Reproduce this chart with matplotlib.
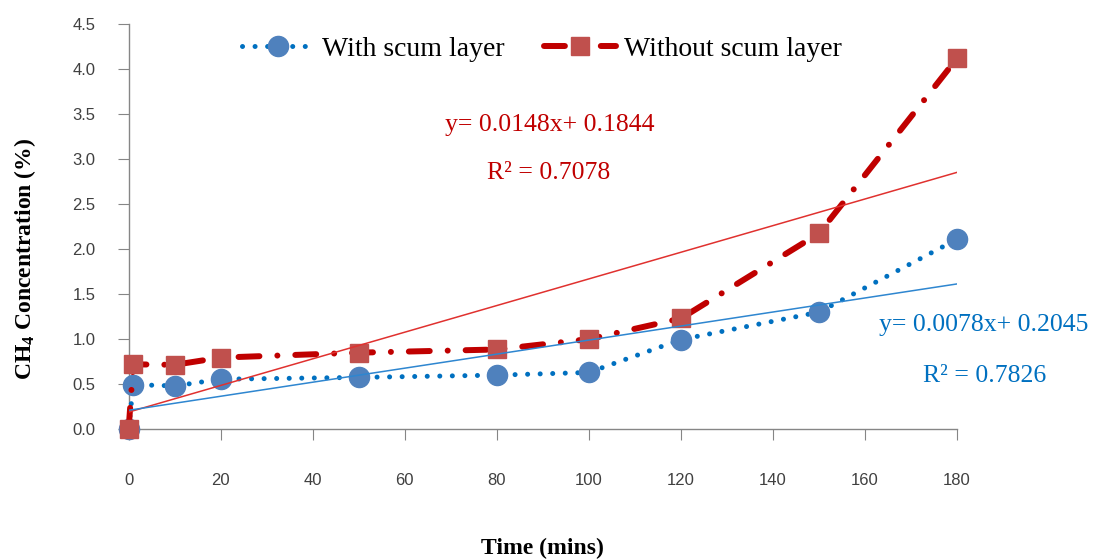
import matplotlib
matplotlib.use("Agg")
import matplotlib.pyplot as plt
import numpy as np

plt.rcParams['mathtext.fontset'] = 'custom'
plt.rcParams['mathtext.rm'] = 'Liberation Serif'
plt.rcParams['mathtext.bf'] = 'Liberation Serif:bold'
plt.rcParams['mathtext.default'] = 'bf'

time = [0, 1, 10, 20, 50, 80, 100, 120, 150, 180]
with_scum = [0.0, 0.49, 0.475, 0.55, 0.57, 0.595, 0.625, 0.99, 1.295, 2.105]
without_scum = [0.0, 0.715, 0.71, 0.79, 0.845, 0.88, 0.995, 1.225, 2.17, 4.115]
blue_fit = (0.0078, 0.2045)
red_fit = (0.0148, 0.1844)
xticks = [0, 20, 40, 60, 80, 100, 120, 140, 160, 180]
yticks = [0.0, 0.5, 1.0, 1.5, 2.0, 2.5, 3.0, 3.5, 4.0, 4.5]

fig = plt.figure(figsize=(10.93, 5.59), dpi=100)
ax = fig.add_axes([0.1177, 0.2331, 0.7579, 0.7245])

serif = 'Liberation Serif'

ax.plot(time, with_scum, color='#0070C0', lw=3.6, linestyle=(0, (0.01, 2.5)),
        dash_capstyle='round', marker='o', markersize=14.5,
        markerfacecolor='#4F81BD', markeredgecolor='#4F81BD', zorder=3,
        label='With scum layer', clip_on=False)
ax.plot(time, without_scum, color='#C00000', lw=4.3, linestyle=(0, (3.5, 3.0, 0.01, 3.0)),
        dash_capstyle='round', marker='s', markersize=13.5,
        markerfacecolor='#C0504D', markeredgecolor='#C0504D', zorder=4,
        label='Without scum layer', clip_on=False)

xf = np.array([0, 180])
ax.plot(xf, red_fit[0] * xf + red_fit[1], color='#E0312F', lw=1.1, zorder=5)
ax.plot(xf, blue_fit[0] * xf + blue_fit[1], color='#2E86D0', lw=1.1, zorder=5)

ax.set_xlim(0, 180)
ax.set_ylim(0, 4.5)
ax.set_xticks(xticks)
ax.set_yticks(yticks)
ax.set_xticklabels([str(v) for v in xticks])
ax.set_yticklabels([f"{v:.1f}" for v in yticks])
for s in ['top', 'right']:
    ax.spines[s].set_visible(False)
for s in ['left', 'bottom']:
    ax.spines[s].set_color('#868686')
    ax.spines[s].set_linewidth(1.0)
ax.tick_params(axis='x', direction='out', length=8, color='#868686', pad=24,
               labelsize=12, labelcolor='#404040')
ax.tick_params(axis='y', direction='out', length=8, color='#868686', pad=16,
               labelsize=12, labelcolor='#404040')
for lab in ax.get_xticklabels() + ax.get_yticklabels():
    lab.set_fontfamily('Liberation Sans')

ax.set_xlabel('Time (mins)', fontfamily=serif, fontweight='bold', fontsize=17, labelpad=36)
ax.set_ylabel('CH$_4$ Concentration (%)', fontfamily=serif, fontweight='bold', fontsize=17)
ax.yaxis.set_label_coords(-0.11, 0.42)

fig.text(550 / 1093, 1 - 125 / 559, 'y= 0.0148x+ 0.1844', ha='center', va='center',
         fontfamily=serif, fontsize=18.5, color='#C00000')
fig.text(549 / 1093, 1 - 173 / 559, 'R² = 0.7078', ha='center', va='center',
         fontfamily=serif, fontsize=18.5, color='#C00000')
fig.text(984 / 1093, 1 - 325 / 559, 'y= 0.0078x+ 0.2045', ha='center', va='center',
         fontfamily=serif, fontsize=18.5, color='#0070C0')
fig.text(985 / 1093, 1 - 376 / 559, 'R² = 0.7826', ha='center', va='center',
         fontfamily=serif, fontsize=18.5, color='#0070C0')

leg = ax.legend(loc='center', bbox_to_anchor=(542 / 1093, 1 - 49 / 559),
                bbox_transform=fig.transFigure, ncol=2, frameon=False,
                prop={'family': serif, 'size': 20}, handlelength=2.6,
                columnspacing=1.4, handletextpad=0.3)

fig.savefig('out.png', dpi=100)
